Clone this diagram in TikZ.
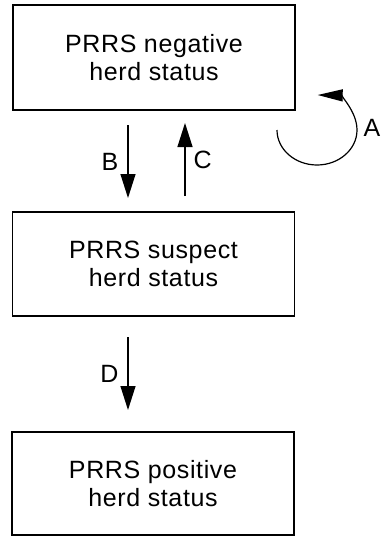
\documentclass[tikz,border=0pt]{standalone}
\usepackage{fontspec}
\setmainfont[LetterSpace=2.5]{Liberation Sans}
\usetikzlibrary{arrows.meta}
\tikzset{
  statebox/.style={draw, line width=1.4pt, minimum width=282pt, align=center,
    inner sep=0pt, font=\fontsize{25}{27.5}\selectfont},
  flow/.style={line width=1.2pt, -{Triangle[length=24pt,width=15pt]}},
  lbl/.style={font=\fontsize{25}{28}\selectfont, inner sep=0pt}
}
\begin{document}
\begin{tikzpicture}[x=1pt,y=-1pt]
  \useasboundingbox (0,0) rectangle (384,536);
  % three herd-status boxes
  \node[statebox, minimum height=105pt] (neg) at (154,57.5) {PRRS negative\\herd status};
  \node[statebox, minimum height=104pt] (sus) at (153.5,264) {PRRS suspect\\herd status};
  \node[statebox, minimum height=103pt] (pos) at (153,483.5) {PRRS positive\\herd status};
  % arrow end points
  \coordinate (bTop) at (128,125);
  \coordinate (bEnd) at (128,198);
  \coordinate (cTail) at (185,196);
  \coordinate (cEnd) at (185,123);
  \coordinate (dTop) at (128,337);
  \coordinate (dEnd) at (128,410);
  % transitions
  \draw[flow] (bTop) -- node[lbl, left=9pt] {B} (bEnd);
  \draw[flow] (cTail) -- node[lbl, right=8pt] {C} (cEnd);
  \draw[flow] (dTop) -- node[lbl, left=9pt] {D} (dEnd);
  % staying negative
  \coordinate (aStart) at (277,130);
  \draw[line width=1.2pt, -{Triangle[length=25pt,width=12pt]}] (aStart) arc[start angle=180, end angle=449, x radius=40, y radius=-35];
  \node[lbl] (aLab) at (372,128) {A};
\end{tikzpicture}
\end{document}
